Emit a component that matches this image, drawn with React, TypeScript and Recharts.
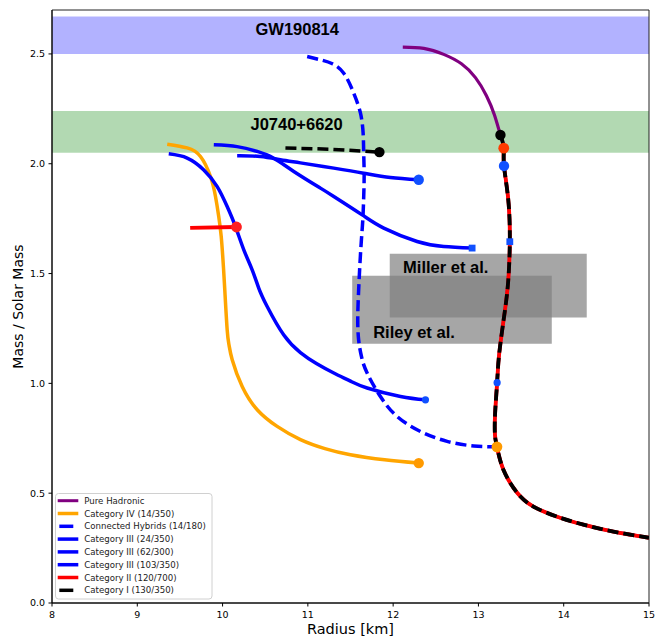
import React from "react";
import {
  ComposedChart,
  Line,
  Scatter,
  XAxis,
  YAxis,
  ReferenceArea,
  ReferenceDot,
  Legend,
  Label,
} from "recharts";

type P = [number, number];

const xTicks = [8, 9, 10, 11, 12, 13, 14, 15];
const yTicks = [0, 0.5, 1, 1.5, 2, 2.5];

// hadronic branch, [radius km, mass]
const hadronic: P[] = [
  [12.113, 2.531], [12.359, 2.525], [12.593, 2.498], [12.801, 2.455], [12.965, 2.392],
  [13.094, 2.31], [13.188, 2.222], [13.258, 2.131], [13.297, 2.071], [13.3, 1.99],
  [13.35, 1.836], [13.368, 1.645], [13.35, 1.47], [13.31, 1.33], [13.245, 1.14],
  [13.219, 1.003], [13.195, 0.86], [13.194, 0.765], [13.217, 0.711], [13.293, 0.607],
  [13.454, 0.502], [13.645, 0.439], [13.923, 0.393], [14.231, 0.357], [14.583, 0.325],
  [15.0, 0.297],
];
// index of transition onset on the hadronic branch
const onsetCatI = 7;
const onsetCatII = 8;
const onsetCatIIIa = 9;
const onsetCatIIIb = 11;
const onsetCatIIIc = 15;
const onsetCatIV = 18;

const catIV: P[] = [
  [9.351, 2.089], [9.585, 2.072], [9.741, 2.033], [9.858, 1.942], [9.917, 1.851],
  [9.955, 1.76], [9.984, 1.669], [10.007, 1.549], [10.026, 1.426], [10.054, 1.244],
  [10.075, 1.176], [10.113, 1.108], [10.23, 0.986], [10.406, 0.88], [10.64, 0.804],
  [10.913, 0.744], [11.2, 0.703], [11.499, 0.675], [11.9, 0.652], [12.3, 0.637],
];

const connected: P[] = [
  [10.992, 2.488], [11.171, 2.471], [11.288, 2.455], [11.421, 2.412], [11.538, 2.321],
  [11.617, 2.23], [11.648, 2.139], [11.655, 2.048], [11.66, 1.95], [11.655, 1.851],
  [11.645, 1.75], [11.628, 1.654], [11.61, 1.54], [11.595, 1.42], [11.585, 1.3],
  [11.595, 1.2], [11.63, 1.12], [11.695, 1.047], [11.851, 0.94], [12.047, 0.849],
  [12.32, 0.781], [12.633, 0.736], [12.945, 0.715], [13.217, 0.711],
];

const catIIIa: P[] = [
  [10.171, 2.036], [10.444, 2.033], [10.679, 2.018], [10.913, 2.004], [11.304, 1.98],
  [11.655, 1.957], [11.968, 1.937], [12.3, 1.927],
];
const catIIIb: P[] = [
  [9.897, 2.086], [10.171, 2.078], [10.406, 2.056], [10.6, 2.025], [10.835, 1.965],
  [11.148, 1.889], [11.304, 1.851], [11.637, 1.767], [11.89, 1.707], [12.281, 1.646],
  [12.593, 1.623], [12.926, 1.616],
];
const catIIIc: P[] = [
  [9.369, 2.045], [9.585, 2.026], [9.78, 1.972], [9.937, 1.896], [10.054, 1.805],
  [10.151, 1.714], [10.249, 1.608], [10.347, 1.517], [10.424, 1.434], [10.523, 1.35],
  [10.718, 1.22], [10.913, 1.14], [11.1, 1.09], [11.304, 1.047], [11.5, 1.01],
  [11.695, 0.979], [12.086, 0.94], [12.379, 0.925],
];
const catII: P[] = [[9.62, 1.708], [10.163, 1.712]];
const catI: P[] = [[10.737, 2.072], [11.265, 2.066], [11.839, 2.053]];

// observational constraints
const gwBand: P = [2.5, 2.67];
const jBand: P = [2.05, 2.24];
const millerR: P = [11.96, 14.27];
const millerM: P = [1.3, 1.59];
const rileyR: P = [11.52, 13.86];
const rileyM: P = [1.18, 1.49];

const legendNames = [
  "Pure Hadronic",
  "Category IV (14/350)",
  "Connected Hybrids (14/180)",
  "Category III (24/350)",
  "Category III (62/300)",
  "Category III (103/350)",
  "Category II (120/700)",
  "Category I (130/350)",
];
const legendColors = ["#800080", "#ffa500", "#0000ff", "#0000ff", "#0000ff", "#0000ff", "#ff0000", "#000000"];
const legendDashed = [false, false, true, false, false, false, false, true];

const pts = (a: P[]) => a.map(([r, m]) => ({ r, m }));
const pt = (p: P) => [{ r: p[0], m: p[1] }];

const FONT = "DejaVu Sans";
const ARIAL = "Liberation Sans, Arial, sans-serif";

const circle = (r: number, fill: string) => (props: any) =>
  <circle cx={props.cx} cy={props.cy} r={r} fill={fill} />;
const square = (s: number, fill: string) => (props: any) =>
  <rect x={props.cx - s / 2} y={props.cy - s / 2} width={s} height={s} fill={fill} />;

const textLabel = (txt: string) => (props: any) => {
  const vb = props.viewBox || {};
  return (
    <text x={vb.x} y={vb.y} fontFamily={ARIAL} fontWeight="bold" fontSize={16.5} fill="#000">
      {txt}
    </text>
  );
};

const LegendBox = () => (
  <svg width={158} height={107} style={{ display: "block" }}>
    <rect x={0.5} y={0.5} width={156.5} height={105.5} rx={3} fill="#fff" fillOpacity={0.8} stroke="#d0d0d0" />
    {legendNames.map((name, i) => {
      const y = 7.7 + i * 12.8;
      return (
        <g key={name}>
          {legendDashed[i] ? (
            <line x1={4.3} x2={18.3} y1={y} y2={y} stroke={legendColors[i]} strokeWidth={3.5} />
          ) : (
            <line x1={2.7} x2={23.3} y1={y} y2={y} stroke={legendColors[i]} strokeWidth={i === 0 ? 3 : 3.5} />
          )}
          <text x={29.3} y={y + 3} fontFamily={FONT} fontSize={8.6} fill="#222">
            {name}
          </text>
        </g>
      );
    })}
  </svg>
);

const XTitle = (props: any) => {
  const vb = props.viewBox || { x: 52, y: 603, width: 597 };
  return (
    <text x={vb.x + vb.width / 2} y={vb.y + 31} textAnchor="middle" fontFamily={FONT} fontSize={14.5} fill="#000">
      Radius [km]
    </text>
  );
};
const YTitle = (props: any) => {
  const vb = props.viewBox || { x: 0, y: 10, height: 593 };
  const x = vb.x + 23;
  const y = vb.y + vb.height / 2;
  return (
    <text x={x} y={y} transform={`rotate(-90, ${x}, ${y})`} textAnchor="middle" fontFamily={FONT} fontSize={14} fill="#000">
      Mass / Solar Mass
    </text>
  );
};

export default function App() {
  const tick = { fontFamily: FONT, fontSize: 9.5, fill: "#000" };
  return (
    <div style={{ position: "absolute", left: 0, top: 0, width: 665, height: 637, background: "#fff" }}>
      <ComposedChart width={665} height={637} margin={{ top: 10, right: 16, bottom: 0, left: 0 }}>
        <XAxis
          dataKey="r"
          type="number"
          domain={[8, 15]}
          ticks={xTicks}
          allowDataOverflow
          height={34}
          tick={tick}
          tickSize={3.5}
          tickMargin={5}
          stroke="#000"
          tickLine={{ stroke: "#000" }}
        >
          <Label content={XTitle} />
        </XAxis>
        <YAxis
          type="number"
          domain={[0, 2.7]}
          ticks={yTicks}
          allowDataOverflow
          width={52}
          tick={tick}
          tickFormatter={(v: number) => v.toFixed(1)}
          tickSize={3.5}
          tickMargin={3.5}
          stroke="#000"
          tickLine={{ stroke: "#000" }}
        >
          <Label content={YTitle} />
        </YAxis>

        <ReferenceArea x1={8} x2={15} y1={gwBand[0]} y2={gwBand[1]} fill="#0000ff" fillOpacity={0.3} stroke="none" />
        <ReferenceArea x1={8} x2={15} y1={jBand[0]} y2={jBand[1]} fill="#008000" fillOpacity={0.3} stroke="none" />
        <ReferenceArea x1={millerR[0]} x2={millerR[1]} y1={millerM[0]} y2={millerM[1]} fill="#808080" fillOpacity={0.7} stroke="none" />
        <ReferenceArea x1={rileyR[0]} x2={rileyR[1]} y1={rileyM[0]} y2={rileyM[1]} fill="#808080" fillOpacity={0.7} stroke="none" />
        <ReferenceArea x1={8} x2={15} y1={0} y2={2.7} fill="none" fillOpacity={0} stroke="#222" strokeWidth={1} />

        <Line data={pts(hadronic)} dataKey="m" type="natural" stroke="#800080" strokeWidth={3.2} dot={false} isAnimationActive={false} />
        <Line data={pts(catIV)} dataKey="m" type="natural" stroke="#ffa500" strokeWidth={3.5} dot={false} isAnimationActive={false} />
        <Line data={pts(connected)} dataKey="m" type="natural" stroke="#0000ff" strokeWidth={3.5} strokeDasharray="11 5" dot={false} isAnimationActive={false} />
        <Line data={pts(catIIIa)} dataKey="m" type="natural" stroke="#0000ff" strokeWidth={3.5} dot={false} isAnimationActive={false} />
        <Line data={pts(catIIIb)} dataKey="m" type="natural" stroke="#0000ff" strokeWidth={3.5} dot={false} isAnimationActive={false} />
        <Line data={pts(catIIIc)} dataKey="m" type="natural" stroke="#0000ff" strokeWidth={3.5} dot={false} isAnimationActive={false} />
        <Line data={pts(catII)} dataKey="m" type="linear" stroke="#ff0000" strokeWidth={3.8} dot={false} isAnimationActive={false} />
        <Line data={pts(hadronic.slice(onsetCatII))} dataKey="m" type="natural" stroke="#ff0000" strokeWidth={3.8} dot={false} isAnimationActive={false} />
        <Line data={pts(catI)} dataKey="m" type="linear" stroke="#000" strokeWidth={3.5} strokeDasharray="11 5" dot={false} isAnimationActive={false} />
        <Line data={pts(hadronic.slice(onsetCatI))} dataKey="m" type="natural" stroke="#000" strokeWidth={3.8} strokeDasharray="11 5" dot={false} isAnimationActive={false} />

        <Scatter data={pt(catI[catI.length - 1])} dataKey="m" shape={circle(5.2, "#000")} isAnimationActive={false} />
        <Scatter data={pt(hadronic[onsetCatI])} dataKey="m" shape={circle(5.2, "#000")} isAnimationActive={false} />
        <Scatter data={pt(catII[catII.length - 1])} dataKey="m" shape={circle(5.4, "#ff2020")} isAnimationActive={false} />
        <Scatter data={pt(hadronic[onsetCatII])} dataKey="m" shape={circle(5.4, "#ff3a00")} isAnimationActive={false} />
        <Scatter data={pt(catIIIa[catIIIa.length - 1])} dataKey="m" shape={circle(5.2, "#1050ff")} isAnimationActive={false} />
        <Scatter data={pt(hadronic[onsetCatIIIa])} dataKey="m" shape={circle(5.2, "#1050ff")} isAnimationActive={false} />
        <Scatter data={pt(catIIIb[catIIIb.length - 1])} dataKey="m" shape={square(6.8, "#1050ff")} isAnimationActive={false} />
        <Scatter data={pt(hadronic[onsetCatIIIb])} dataKey="m" shape={square(6.8, "#1050ff")} isAnimationActive={false} />
        <Scatter data={pt(catIIIc[catIIIc.length - 1])} dataKey="m" shape={circle(3.6, "#1050ff")} isAnimationActive={false} />
        <Scatter data={pt(hadronic[onsetCatIIIc])} dataKey="m" shape={circle(3.6, "#1050ff")} isAnimationActive={false} />
        <Scatter data={pt(catIV[catIV.length - 1])} dataKey="m" shape={circle(5.2, "#ff9a00")} isAnimationActive={false} />
        <Scatter data={pt(hadronic[onsetCatIV])} dataKey="m" shape={circle(5.4, "#ff9a00")} isAnimationActive={false} />

        <ReferenceDot x={10.386} y={2.585} r={0} fill="none" stroke="none" label={textLabel("GW190814")} />
        <ReferenceDot x={10.327} y={2.154} r={0} fill="none" stroke="none" label={textLabel("J0740+6620")} />
        <ReferenceDot x={12.117} y={1.502} r={0} fill="none" stroke="none" label={textLabel("Miller et al.")} />
        <ReferenceDot x={11.766} y={1.208} r={0} fill="none" stroke="none" label={textLabel("Riley et al.")} />

        <Legend
          content={LegendBox}
          layout="horizontal"
          verticalAlign="middle"
          align="center"
          wrapperStyle={{ position: "absolute", left: 55, top: 493, width: 158, height: 107 }}
        />
      </ComposedChart>
    </div>
  );
}
